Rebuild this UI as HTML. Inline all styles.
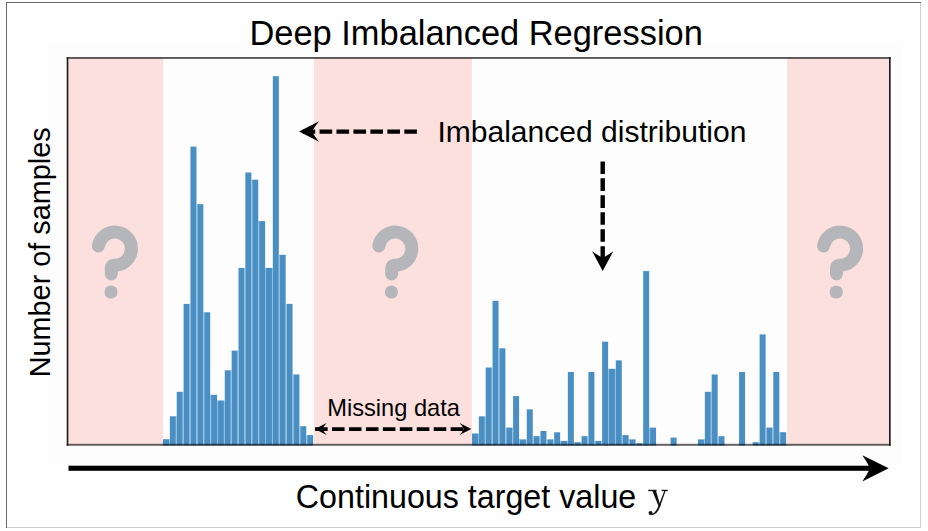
<!DOCTYPE html>
<html><head><meta charset="utf-8"><style>
html,body{margin:0;padding:0;background:#fff;width:928px;height:531px;overflow:hidden}
svg{position:absolute;left:0;top:0}
text{font-family:"Liberation Sans",sans-serif}
</style></head><body>
<svg width="928" height="531" viewBox="0 0 928 531">
<rect x="0" y="0" width="928" height="531" fill="#fff"/>
<rect x="46" y="41" width="857" height="424.6" fill="#fdfdfd"/>
<rect x="920" y="2" width="1" height="526" fill="#cdcdcd"/>
<rect x="6" y="527" width="915" height="1" fill="#cdcdcd"/>
<rect x="6" y="2" width="1" height="526" fill="#6a6a6a"/>
<rect x="6" y="2" width="915" height="1" fill="#6a6a6a"/>
<rect x="67.5" y="58" width="95.7" height="387" fill="#fce0dd"/>
<rect x="313.9" y="58" width="158" height="387" fill="#fce0dd"/>
<rect x="787" y="58" width="103" height="387" fill="#fce0dd"/>
<g fill="#4a8fc3">
<rect x="163.00" y="439.2" width="6.01" height="6.3"/>
<rect x="169.86" y="416.3" width="6.01" height="29.2"/>
<rect x="176.73" y="391.8" width="6.01" height="53.7"/>
<rect x="183.59" y="303.9" width="6.01" height="141.6"/>
<rect x="190.45" y="146.6" width="6.01" height="298.9"/>
<rect x="197.32" y="204.2" width="6.01" height="241.3"/>
<rect x="204.18" y="312.3" width="6.01" height="133.2"/>
<rect x="211.05" y="394.8" width="6.01" height="50.7"/>
<rect x="217.91" y="400.5" width="6.01" height="45.0"/>
<rect x="224.77" y="370.3" width="6.01" height="75.2"/>
<rect x="231.64" y="350.6" width="6.01" height="94.9"/>
<rect x="238.50" y="267.9" width="6.01" height="177.6"/>
<rect x="245.36" y="172.5" width="6.01" height="273.0"/>
<rect x="252.23" y="179.7" width="6.01" height="265.8"/>
<rect x="259.09" y="221.1" width="6.01" height="224.4"/>
<rect x="265.95" y="267.9" width="6.01" height="177.6"/>
<rect x="272.82" y="76.2" width="6.01" height="369.3"/>
<rect x="279.68" y="254.8" width="6.01" height="190.7"/>
<rect x="286.55" y="303.9" width="6.01" height="141.6"/>
<rect x="293.41" y="374.5" width="6.01" height="71.0"/>
<rect x="300.27" y="426.2" width="6.01" height="19.3"/>
<rect x="307.14" y="435.1" width="6.01" height="10.4"/>
<rect x="472.00" y="433.5" width="6.00" height="12.0"/>
<rect x="478.85" y="416.3" width="6.00" height="29.2"/>
<rect x="485.70" y="367.5" width="6.00" height="78.0"/>
<rect x="492.54" y="300.8" width="6.00" height="144.7"/>
<rect x="499.39" y="348.3" width="6.00" height="97.2"/>
<rect x="506.24" y="427.6" width="6.00" height="17.9"/>
<rect x="513.09" y="396.1" width="6.00" height="49.4"/>
<rect x="519.93" y="439.4" width="6.00" height="6.1"/>
<rect x="526.78" y="409.3" width="6.00" height="36.2"/>
<rect x="533.63" y="436.2" width="6.00" height="9.3"/>
<rect x="540.48" y="431.0" width="6.00" height="14.5"/>
<rect x="547.33" y="439.4" width="6.00" height="6.1"/>
<rect x="554.17" y="432.3" width="6.00" height="13.2"/>
<rect x="561.02" y="440.9" width="6.00" height="4.6"/>
<rect x="567.87" y="372.0" width="6.00" height="73.5"/>
<rect x="574.72" y="442.2" width="6.00" height="3.3"/>
<rect x="581.57" y="436.2" width="6.00" height="9.3"/>
<rect x="588.41" y="372.0" width="6.00" height="73.5"/>
<rect x="595.26" y="440.9" width="6.00" height="4.6"/>
<rect x="602.11" y="341.7" width="6.00" height="103.8"/>
<rect x="608.96" y="368.8" width="6.00" height="76.7"/>
<rect x="615.80" y="360.4" width="6.00" height="85.1"/>
<rect x="622.65" y="435.1" width="6.00" height="10.4"/>
<rect x="629.50" y="439.4" width="6.00" height="6.1"/>
<rect x="636.35" y="443.2" width="6.00" height="2.3"/>
<rect x="643.20" y="271.1" width="6.00" height="174.4"/>
<rect x="650.04" y="427.6" width="6.00" height="17.9"/>
<rect x="670.59" y="437.6" width="6.00" height="7.9"/>
<rect x="697.98" y="439.4" width="6.00" height="6.1"/>
<rect x="704.83" y="391.8" width="6.00" height="53.7"/>
<rect x="711.67" y="374.5" width="6.00" height="71.0"/>
<rect x="718.52" y="436.2" width="6.00" height="9.3"/>
<rect x="739.07" y="372.0" width="6.00" height="73.5"/>
<rect x="752.76" y="442.2" width="6.00" height="3.3"/>
<rect x="759.61" y="334.4" width="6.00" height="111.1"/>
<rect x="766.46" y="427.6" width="6.00" height="17.9"/>
<rect x="773.30" y="372.0" width="6.00" height="73.5"/>
<rect x="780.15" y="432.2" width="6.00" height="13.3"/>
</g>
<g fill="#8cb6d7">
<rect x="169.01" y="439.2" width="0.95" height="6.3"/>
<rect x="175.88" y="416.3" width="0.95" height="29.2"/>
<rect x="182.74" y="391.8" width="0.95" height="53.7"/>
<rect x="189.60" y="303.9" width="0.95" height="141.6"/>
<rect x="196.47" y="204.2" width="0.95" height="241.3"/>
<rect x="203.33" y="312.3" width="0.95" height="133.2"/>
<rect x="210.20" y="394.8" width="0.95" height="50.7"/>
<rect x="217.06" y="400.5" width="0.95" height="45.0"/>
<rect x="223.92" y="400.5" width="0.95" height="45.0"/>
<rect x="230.79" y="370.3" width="0.95" height="75.2"/>
<rect x="237.65" y="350.6" width="0.95" height="94.9"/>
<rect x="244.51" y="267.9" width="0.95" height="177.6"/>
<rect x="251.38" y="179.7" width="0.95" height="265.8"/>
<rect x="258.24" y="221.1" width="0.95" height="224.4"/>
<rect x="265.10" y="267.9" width="0.95" height="177.6"/>
<rect x="271.97" y="267.9" width="0.95" height="177.6"/>
<rect x="278.83" y="254.8" width="0.95" height="190.7"/>
<rect x="285.70" y="303.9" width="0.95" height="141.6"/>
<rect x="292.56" y="374.5" width="0.95" height="71.0"/>
<rect x="299.42" y="426.2" width="0.95" height="19.3"/>
<rect x="306.29" y="435.1" width="0.95" height="10.4"/>
<rect x="478.00" y="433.5" width="0.95" height="12.0"/>
<rect x="484.85" y="416.3" width="0.95" height="29.2"/>
<rect x="491.69" y="367.5" width="0.95" height="78.0"/>
<rect x="498.54" y="348.3" width="0.95" height="97.2"/>
<rect x="505.39" y="427.6" width="0.95" height="17.9"/>
<rect x="512.24" y="427.6" width="0.95" height="17.9"/>
<rect x="519.08" y="439.4" width="0.95" height="6.1"/>
<rect x="525.93" y="439.4" width="0.95" height="6.1"/>
<rect x="532.78" y="436.2" width="0.95" height="9.3"/>
<rect x="539.63" y="436.2" width="0.95" height="9.3"/>
<rect x="546.48" y="439.4" width="0.95" height="6.1"/>
<rect x="553.32" y="439.4" width="0.95" height="6.1"/>
<rect x="560.17" y="440.9" width="0.95" height="4.6"/>
<rect x="567.02" y="440.9" width="0.95" height="4.6"/>
<rect x="573.87" y="442.2" width="0.95" height="3.3"/>
<rect x="580.72" y="442.2" width="0.95" height="3.3"/>
<rect x="587.56" y="436.2" width="0.95" height="9.3"/>
<rect x="594.41" y="440.9" width="0.95" height="4.6"/>
<rect x="601.26" y="440.9" width="0.95" height="4.6"/>
<rect x="608.11" y="368.8" width="0.95" height="76.7"/>
<rect x="614.95" y="368.8" width="0.95" height="76.7"/>
<rect x="621.80" y="435.1" width="0.95" height="10.4"/>
<rect x="628.65" y="439.4" width="0.95" height="6.1"/>
<rect x="635.50" y="443.2" width="0.95" height="2.3"/>
<rect x="642.35" y="443.2" width="0.95" height="2.3"/>
<rect x="649.19" y="427.6" width="0.95" height="17.9"/>
<rect x="703.98" y="439.4" width="0.95" height="6.1"/>
<rect x="710.82" y="391.8" width="0.95" height="53.7"/>
<rect x="717.67" y="436.2" width="0.95" height="9.3"/>
<rect x="758.76" y="442.2" width="0.95" height="3.3"/>
<rect x="765.61" y="427.6" width="0.95" height="17.9"/>
<rect x="772.45" y="427.6" width="0.95" height="17.9"/>
<rect x="779.30" y="432.2" width="0.95" height="13.3"/>
</g>
<rect x="66.7" y="57.1" width="824" height="1.7" fill="#000" fill-opacity="0.72"/>
<rect x="66.7" y="443.8" width="824" height="2.0" fill="#000" fill-opacity="0.6"/>
<rect x="66.7" y="57.1" width="1.65" height="388.7" fill="#1c1c1c"/>
<rect x="889.0" y="57.1" width="1.65" height="388.7" fill="#1c1c1c"/>
<g transform="translate(0.0,0)"><path d="M98.4 246 A16.6 16.6 0 1 1 114 265.2 Q111.3 265.4 111.3 268.6 L111.3 274" fill="none" stroke="#b4b6b9" stroke-width="13" stroke-linecap="round"/><circle cx="111" cy="292" r="6.6" fill="#b4b6b9"/></g>
<g transform="translate(280.4,0)"><path d="M98.4 246 A16.6 16.6 0 1 1 114 265.2 Q111.3 265.4 111.3 268.6 L111.3 274" fill="none" stroke="#b4b6b9" stroke-width="13" stroke-linecap="round"/><circle cx="111" cy="292" r="6.6" fill="#b4b6b9"/></g>
<g transform="translate(725.2,0)"><path d="M98.4 246 A16.6 16.6 0 1 1 114 265.2 Q111.3 265.4 111.3 268.6 L111.3 274" fill="none" stroke="#b4b6b9" stroke-width="13" stroke-linecap="round"/><circle cx="111" cy="292" r="6.6" fill="#b4b6b9"/></g>
<g fill="#000">
<line x1="302.6" y1="131.6" x2="417.2" y2="131.6" stroke="#000" stroke-width="4.2" stroke-dasharray="12.6 4.35"/>
<path transform="translate(299.1,131.5) rotate(180)" d="M0 0 L-20.00 -10.25 Q-15.60 -5.12 -12.80 0 Q-15.60 5.12 -20.00 10.25 Z"/>
<line x1="602.7" y1="161.4" x2="602.7" y2="262" stroke="#000" stroke-width="4.4" stroke-dasharray="12.6 4.35"/>
<path transform="translate(602.7,271.1) rotate(90)" d="M0 0 L-19.90 -10.60 Q-16.05 -5.30 -13.20 0 Q-16.05 5.30 -19.90 10.60 Z"/>
<line x1="315.05" y1="429.1" x2="463.3" y2="429.1" stroke="#000" stroke-width="3.8" stroke-dasharray="12.6 4.35"/>
<path transform="translate(314.9,429.0) rotate(180)" d="M0 0 L-11.80 -6.00 Q-8.80 -3.00 -7.60 0 Q-8.80 3.00 -11.80 6.00 Z"/>
<path transform="translate(471.3,429.0) rotate(0)" d="M0 0 L-11.80 -6.00 Q-8.80 -3.00 -7.60 0 Q-8.80 3.00 -11.80 6.00 Z"/>
<rect x="68.5" y="465.7" width="803" height="5.1"/>
<path transform="translate(888.7,468.3) rotate(0)" d="M0 0 L-26.40 -13.10 Q-21.70 -6.55 -18.60 0 Q-21.70 6.55 -26.40 13.10 Z"/>
</g>
<text x="249.5" y="44.8" font-size="34.2" textLength="453.3" lengthAdjust="spacingAndGlyphs" fill="#000">Deep Imbalanced Regression</text>
<text x="437.4" y="142.4" font-size="29.9" textLength="309" lengthAdjust="spacingAndGlyphs" fill="#000">Imbalanced distribution</text>
<text x="327.2" y="416.4" font-size="23.4" textLength="132.7" lengthAdjust="spacingAndGlyphs" fill="#000">Missing data</text>
<text transform="translate(49.7,377.35) rotate(-90)" font-size="29.1" textLength="250.1" lengthAdjust="spacingAndGlyphs" fill="#000">Number of samples</text>
<text x="295.85" y="507.5" font-size="32.4" textLength="340.4" lengthAdjust="spacingAndGlyphs" fill="#000">Continuous target value</text>
<g fill="#111" stroke="none">
<rect x="648.2" y="489.8" width="8.4" height="1.35"/>
<rect x="661.6" y="489.8" width="6.2" height="1.35"/>
<path d="M652.2 490.5 L655.9 490.5 L660.6 506.2 L659.0 507.2 Z"/>
<path d="M664.6 490.3 L665.7 490.5 L660.0 506.8 Q657.2 514.6 651.8 515.3 L651.4 514.2 Q655.2 513.2 658.3 506.6 Z"/>
<circle cx="650.6" cy="513.0" r="2.05"/>
</g>
</svg>
</body></html>
